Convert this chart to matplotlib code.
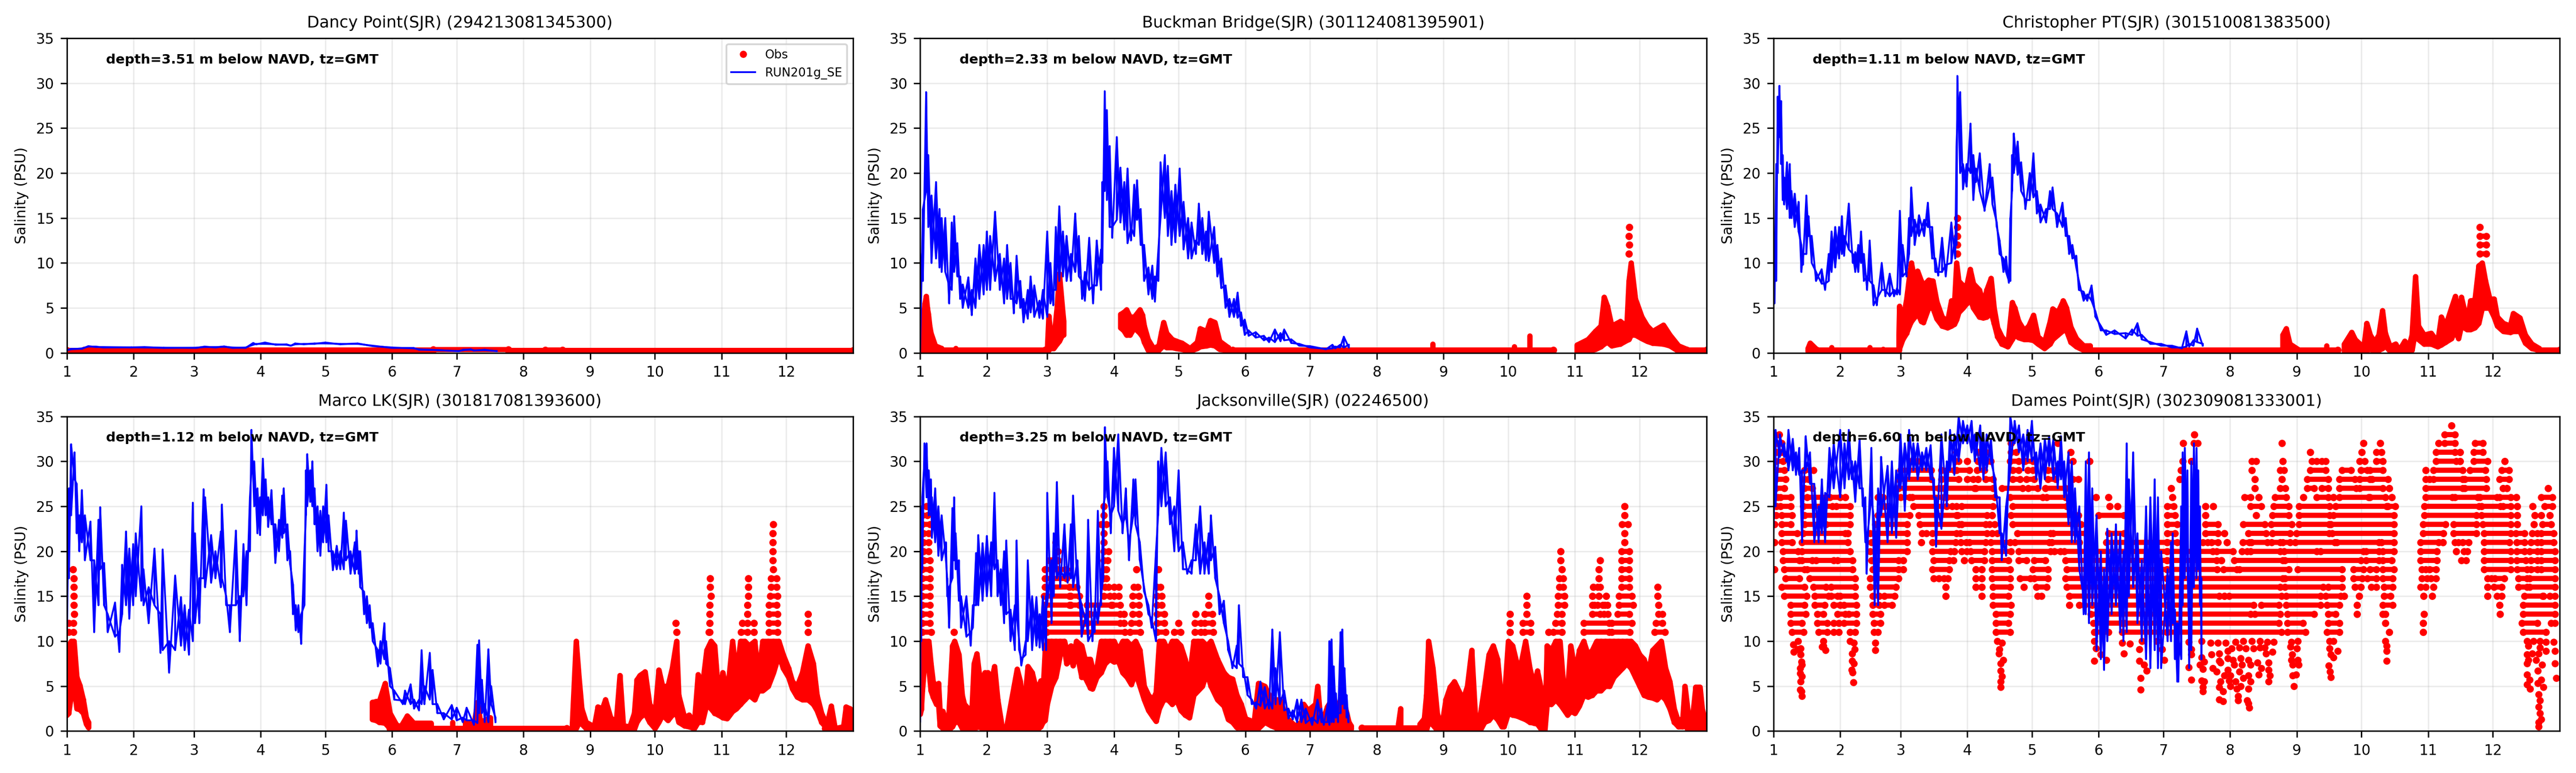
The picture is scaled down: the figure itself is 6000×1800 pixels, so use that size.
import numpy as np
import matplotlib
matplotlib.use("Agg")
import matplotlib.pyplot as plt

month_starts = [0, 31, 59, 90, 120, 151, 181, 212, 243, 273, 304, 334]
month_labels = ["1", "2", "3", "4", "5", "6", "7", "8", "9", "10", "11", "12"]
yticks = [0, 5, 10, 15, 20, 25, 30, 35]

titles = ["Dancy Point(SJR) (294213081345300)", "Buckman Bridge(SJR) (301124081395901)",
          "Christopher PT(SJR) (301510081383500)", "Marco LK(SJR) (301817081393600)",
          "Jacksonville(SJR) (02246500)", "Dames Point(SJR) (302309081333001)"]
depths = [3.51, 2.33, 1.11, 1.12, 3.25, 6.60]

# model salinity: (day, high, low) of the tidal band
dancy_blue = [(0, .3, .3), (2, .45, .4), (7, .5, .45), (10, .75, .7), (13.5, .7, .65), (17, .65, .6), (30, .62, .6),
              (36, .65, .6), (45, .58, .55), (60, .58, .55), (64, .7, .65), (69, .65, .6), (73, .72, .68), (77, .6, .55),
              (83, .6, .55), (86.5, 1.1, .9), (88, 1, .95), (92, 1.15, 1), (97, .95, .9), (102, .95, .9), (104, .8, .8),
              (106, 1.05, .95), (110, 1, .95), (115, 1.05, 1), (120, 1.15, 1.05), (127, 1, .95), (135, 1.05, 1),
              (142, .8, .75), (151, .6, .55), (161, .55, .5), (163.5, .4, .35), (172, .32, .3), (182, .2, .18),
              (184, .35, .3), (187.5, .4, .35), (189, .28, .25), (194, .35, .3), (199.6, .2, .18)]

buckman_blue = [(0, 11, 0), (1.3, 16, 8), (2.8, 29, 18), (3.8, 22, 14), (5.3, 17.5, 10), (7.4, 19, 10.5), (9, 16, 9.5),
                (10, 15, 9), (11.7, 15, 9), (13.5, 7.5, 5.5), (14.7, 14.5, 7), (15.8, 15.2, 9), (17.3, 12.2, 8.5),
                (18.6, 8.5, 6), (19.8, 7.6, 5), (22.4, 8.4, 5), (24, 7, 4.2), (25.7, 10.5, 5), (27.5, 12, 6), (29.5, 12, 6.5),
                (31, 13.5, 7), (32.5, 13, 7), (34.8, 15.7, 8), (37, 11, 7), (39, 10.5, 5.5), (40.4, 12, 6), (42, 10, 6),
                (43.5, 6, 4.4), (44.8, 10.8, 5.5), (46.5, 8, 5), (48, 6, 3.4), (50, 7, 3.8), (51.3, 8.5, 4.5), (53, 7.5, 4),
                (55.4, 5.8, 3.9), (57, 7, 3.8), (59, 13.5, 4), (60.5, 10, 5.5), (61.8, 7, 5.3), (63, 14, 7), (64.6, 16.3, 8),
                (66.3, 13.5, 8.5), (68, 13, 8), (70, 11, 8), (72, 15.5, 9), (73.7, 13, 8.5), (75.2, 8, 6), (76.5, 9, 5.8),
                (78.5, 12.8, 7), (80.3, 7.5, 5.5), (82, 12.5, 7.5), (84, 11.5, 7), (84.6, 19, 10), (85.7, 29.1, 18),
                (86.7, 27, 17), (88, 23, 14), (89.2, 14, 12.8), (91.3, 24, 14.8), (93, 20.6, 14.5), (94.8, 19, 13.7),
                (96.3, 20.5, 12.2), (97.9, 14, 12.5), (99.4, 18.7, 13), (100.7, 19.2, 14.8), (102.4, 16, 12), (104, 12, 8),
                (106, 9.5, 6.5), (107.8, 9.7, 6), (109, 8.5, 5.7), (110.6, 11.5, 8), (111.6, 21.2, 15), (113.6, 22, 15),
                (115, 20.8, 13), (116.7, 18, 12), (118.5, 18.7, 12.3), (120.5, 20.5, 13), (122.3, 16.8, 11.5),
                (124.4, 15, 10.5), (126, 14.5, 10.5), (128, 12.5, 11), (129.4, 16.6, 12), (131, 15, 11), (132.7, 13.5, 10.3),
                (134, 15.7, 10.2), (136.5, 14, 10), (138, 12, 8.5), (139.8, 10.5, 7.2), (141.8, 7.5, 5), (143.6, 6, 4),
                (145.7, 6, 4), (147.4, 6.7, 3.9), (149, 4.5, 3), (150.7, 3.7, 2), (152.5, 2.5, 1.9), (155.8, 2.3, 1.7),
                (159.6, 1.9, 1.4), (162, 1.7, 1.2), (164.7, 2.6, 1.2), (167.3, 2.2, 1.3), (169, 2.6, 1.4), (172.3, 1.5, 1.1),
                (176, 1, .8), (181, .75, .6), (188.4, .45, .4), (191.4, .9, .5), (192.7, .7, .5), (195, .9, .6),
                (196.7, 1.8, .6), (199, .9, .6)]

christopher_blue = [(0, 5.5, 5.3), (.5, 13, 5.5), (1.3, 21, 8), (2, 28.5, 20), (2.8, 29.7, 24), (3.6, 28, 21), (4.3, 22, 17),
                    (5, 19.5, 16.5), (6.3, 21.2, 16), (7.6, 21, 15), (8.4, 18, 15), (9.9, 17.7, 14), (11.7, 16.8, 13.5),
                    (13, 12, 9), (13.7, 11, 9.8), (15.3, 17.5, 11), (16.3, 15.2, 13), (17.8, 13, 10), (19.8, 9, 8),
                    (22.4, 9.3, 7.7), (24, 7.7, 7), (25.7, 11, 8), (27, 13.5, 9), (28.7, 14, 9.5), (30.5, 14, 10.5),
                    (31.8, 15.2, 11), (32.8, 13, 10.8), (35, 16.6, 11.5), (36.9, 11, 10), (38, 11.2, 9), (39.4, 12, 9),
                    (40.7, 13.5, 10), (42, 11, 8), (43.5, 8.5, 7), (44.7, 12.5, 8), (46.5, 7.5, 5.3), (48, 6, 5.3),
                    (50.3, 10, 7), (52, 7, 6.3), (54, 8.8, 6.3), (56, 7, 6.3), (57.4, 7.2, 6.5), (58.7, 15.8, 6.5), (60, 12, 8.5),
                    (61.8, 9, 8.5), (63, 15, 11), (64, 18.4, 13), (65.6, 14.8, 12), (67.6, 15.3, 13), (70, 14.8, 13),
                    (71.7, 16.7, 14), (73.7, 14, 10.5), (75.2, 10.5, 9), (76.5, 9, 8.6), (78.3, 12.8, 9), (80, 9.8, 8.5),
                    (82.6, 14.5, 10), (84.4, 13, 10.5), (85, 23, 12), (85.4, 30.8, 26), (86.7, 29, 20), (88, 21, 18.2),
                    (89.7, 21, 18.5), (91.5, 25.5, 20), (92.8, 22, 17), (94, 20.5, 19), (95.8, 22.2, 18), (98, 16, 15.8),
                    (100.4, 21, 18.5), (101.7, 19.5, 16.5), (103.7, 14.5, 14), (105, 12.5, 11), (106.8, 10.5, 9), (108, 10.7, 9),
                    (109.3, 8, 7.8), (110, 15, 8), (110.8, 22, 18), (111.6, 24.4, 20), (113.4, 23.5, 19.8), (115, 21.2, 18),
                    (117, 17, 16), (119, 20, 17), (120.7, 22.2, 17.3), (122.3, 18, 15.5), (124, 16.5, 14.5), (126.6, 16, 14.5),
                    (128.4, 18, 16), (129.6, 18.4, 16), (131.7, 15.5, 14), (134.2, 16.7, 14), (135.7, 15, 13), (137.3, 13, 11),
                    (138.8, 12, 10.5), (140.6, 10.8, 9.5), (141.8, 8, 7), (144, 6.8, 5.8), (145.7, 6.5, 5.8), (147.7, 7.5, 5.8),
                    (149.5, 4.6, 4), (152, 3, 2.5), (154.5, 2.5, 2), (158.4, 2.5, 2.1), (163.5, 2.2, 1.6), (166.5, 2.6, 2),
                    (169, 3.3, 1.9), (171, 2, 1.5), (175, 1.2, 1), (180, 1, .8), (185, .8, .6), (189.6, .6, .5), (191.7, 2.4, .7),
                    (193, 1, .7), (195, 1.4, .8), (196.7, 2.7, 1.2), (199.3, 1, .8)]

marco_blue = [(0, 22, 9.5), (1, 27, 17), (2, 31.9, 24), (3.6, 31, 28), (4.6, 27.5, 22), (5.8, 24, 20), (7, 26.8, 21), (8.4, 24, 19),
              (11, 23.3, 19), (12.7, 19, 11), (14.7, 23.5, 14), (15.5, 24.9, 18), (17.3, 18.7, 14), (19, 13, 11), (22.4, 14.3, 10.5),
              (24.4, 11, 8.8), (25.7, 18.5, 13), (27.5, 22.2, 14), (29, 20.3, 12.5), (30.8, 20.8, 14), (32, 22, 15), (34.6, 25, 14.5),
              (35.6, 18, 14), (38, 16, 12), (40.7, 20.3, 14), (43.5, 13, 8.7), (44.5, 20.2, 9), (47.5, 10, 6.5), (50.3, 17.3, 9),
              (53, 14.9, 9.5), (54.7, 14, 9), (56.7, 13.5, 8.5), (58.5, 25.4, 10), (59.5, 22, 12), (61.5, 17, 12), (63.5, 26.9, 17),
              (64.2, 26, 16), (67, 21.8, 16.5), (69, 20, 17), (71.5, 22.2, 16), (72, 25.2, 17), (74, 15, 14), (75.7, 14, 11), (78.5, 22.3, 14),
              (80.3, 15, 10), (82, 20.8, 15), (83.4, 20, 14), (85, 26, 20), (85.7, 33.5, 29), (87, 30, 25), (88.5, 27, 22), (89.7, 26, 21.8),
              (91, 30.3, 24), (92.3, 28, 24), (93.5, 26, 22.7), (95, 26.8, 23), (96.8, 23, 18.7), (98.5, 23.5, 20), (100, 26.2, 21.5),
              (100.7, 27, 22), (102.4, 23, 19), (103.7, 20, 18.5), (105, 16.3, 13), (106.3, 14, 11.2), (107.5, 14, 11), (108.8, 13, 9.7),
              (110.3, 20, 14), (111, 29, 24), (111.6, 30.8, 25), (113, 29, 25.5), (114, 30, 25), (115, 27, 23), (116.4, 25, 20),
              (117.7, 24.5, 19.5), (119, 25, 21), (120.5, 27.4, 21), (121.5, 24, 20), (123.5, 20, 17.9), (125.3, 20.6, 18), (127, 20, 18),
              (128.6, 24.3, 18), (129.6, 23.4, 19), (131.7, 20, 17.5), (133.7, 21, 17.5), (134.5, 22.3, 18), (135.5, 20, 17.5), (136.2, 20, 16),
              (138, 15.5, 13), (139.3, 15, 12), (140.6, 14, 11.5), (142, 12, 10), (144.4, 9, 7.2), (145.6, 10, 7.5), (147.4, 12, 8), (148.2, 10, 7.5),
              (150, 7, 5), (152, 4.5, 3.5), (156, 3.4, 3), (157, 4.5, 3), (159.6, 5.2, 3), (161.2, 3.5, 2.5), (163.5, 3.5, 2.3), (164.7, 9, 3),
              (166, 5, 3), (168.5, 8.7, 3.5), (169.8, 6.8, 3), (172, 3, 2), (175, 2, 1.3), (178.7, 2.9, 1.3), (181, 2.6, 1.2), (183.8, 1.5, 1),
              (185.6, 2.6, 1.2), (189, 1.2, .7), (190.6, 9.6, .9), (191.4, 10.1, 2), (192.7, 5.7, 2), (194, 3, 1), (195.7, 9.1, 1), (197, 5, 3),
              (199, 1.5, 1)]

jacksonville_blue = [(0, 10, 1), (.5, 25, 10), (1, 26, 18), (2, 32, 30), (3, 32, 26), (4, 29, 24), (5, 28, 24), (5.5, 26, 21.5), (7, 27, 21),
                     (8.5, 25, 19.5), (10, 24, 19), (12, 21, 19), (12.6, 17, 15), (13.5, 16, 11.5), (15, 24.8, 17), (15.8, 26, 19), (16.5, 22, 18),
                     (18, 19, 14.5), (19, 15, 11.5), (21.5, 15, 10.5), (23.5, 11, 9.5), (24.5, 14, 11.5), (26, 19.8, 14), (27, 21.8, 14),
                     (29, 20.9, 14.5), (31, 21.7, 15), (33, 21, 15), (34.5, 26.5, 18), (36, 19, 15), (37.5, 18, 14), (39, 20, 12), (40, 21.2, 13),
                     (42, 13.5, 10), (44, 14, 9), (44.8, 21.2, 13), (46, 10, 9), (47, 8, 7.3), (49, 10, 8.5), (50, 19, 10), (52, 15, 9),
                     (54, 14.9, 9.5), (55.5, 13, 9.3), (57, 15, 9), (58.5, 15, 9), (59, 26.5, 14), (61, 19, 12), (62, 22, 15), (63.5, 27.7, 17),
                     (65, 18, 16), (67, 23, 17), (68.5, 18, 16.5), (70, 23, 17), (71, 26.2, 16), (73, 19, 16), (75, 14, 10.5), (77, 13, 12),
                     (78, 23.5, 10), (80, 11, 10), (81, 14, 11), (82.5, 24.5, 12), (84, 15, 14), (85, 25, 17), (85.8, 33.8, 26), (87, 30, 26),
                     (88.5, 24, 22), (90, 31.5, 25), (92, 33, 24.5), (94, 23, 22), (95.5, 27, 24), (97, 21, 19), (99, 28, 24), (100, 28, 23),
                     (102, 21, 19), (104, 16, 15.5), (106, 14, 13), (107.5, 12.5, 11.5), (109.5, 20, 10), (110.5, 30, 24), (112, 31.5, 25),
                     (114, 31, 25), (116, 26, 23), (118, 25, 20), (120, 29, 20), (122, 21, 18), (124, 18, 17.5), (126, 19, 17.5), (128, 23, 19),
                     (130, 25, 17.5), (132, 21, 17.5), (134, 22, 17.5), (135, 24, 19), (137, 20.5, 17), (139, 15, 13), (141, 14.5, 12), (143, 10, 9),
                     (145, 7.5, 7), (147, 9.5, 7), (148, 14, 7.5), (150, 7, 6), (152, 6, 4), (154, 3.5, 3), (156, 3.2, 2.5), (158, 5.5, 2.8),
                     (160, 4.9, 2.5), (162, 3.5, 2.5), (163.5, 11.3, 2.5), (165, 7, 3), (167, 11, 3), (169, 4.5, 2.3), (171, 2.5, 1.4), (173, 2.3, 1.3),
                     (175, 3.5, 1), (177, 3.5, 1), (179, 2.5, .9), (182, 1.5, .7), (184.5, 3.5, .9), (186.3, 2.5, 1), (187.4, 1, .7), (189.2, 3, 1),
                     (190, 10, .7), (191, 10.2, 1), (192, 7.2, 1), (193, 4.2, 1.5), (194, 2, 1), (195.2, 11, 2), (196, 11.3, 3), (197, 7, 2.5),
                     (198, 4, 1.5), (198.8, 2, 1)]

dames_blue = [(0, 25, 21), (1, 33.5, 25), (3, 33, 30.5), (5, 32, 30.5), (6, 31, 30), (7, 33.5, 29), (9, 32.5, 29), (10.5, 31, 28.5), (12, 31.5, 28.5),
              (13.3, 29, 21), (15, 32.8, 29), (17, 31, 27.5), (19, 27.5, 21), (21, 25, 21), (22.5, 28, 22), (24, 26.5, 21), (26, 31.5, 26), (28, 32, 27),
              (31, 33.5, 26), (33, 32, 27), (35, 33.5, 28), (36.5, 30, 28), (38, 30, 25.5), (40, 32.5, 27), (41.5, 27, 25), (42.7, 26, 21), (43.3, 21, 17.5),
              (45.5, 31.5, 26), (47, 23, 14), (48.6, 27, 14), (50, 30.5, 24), (53, 29.5, 21), (55, 30, 22), (57, 29, 21.5), (59, 33, 27), (61, 32, 24.5),
              (63, 33.5, 28), (65, 32, 29), (67, 32, 28), (69, 31, 29), (71, 31.5, 29), (73, 31.8, 28), (74.5, 28, 26), (75.5, 26, 20.5), (78, 33, 22.5),
              (80.5, 30, 25), (82, 33.5, 29), (84, 33, 28.5), (86, 35, 30), (88, 34.5, 32), (90, 34, 32), (92, 34.5, 31), (93.5, 33, 30), (96, 34, 29),
              (97.5, 33, 28), (99, 33, 29), (101, 32.5, 30), (103, 28, 26), (105, 26, 22), (106, 22, 19), (108, 25, 19.5), (110, 35, 29), (112, 34.5, 32),
              (114, 34, 31), (116, 33, 29), (118, 33.5, 30), (120, 34.5, 30), (122, 31, 28), (124, 32, 27), (126, 32.5, 28), (128, 32.8, 29.5), (130, 32.5, 28),
              (132, 30, 27), (133.5, 32.8, 28), (135, 30, 26), (137, 31, 23), (138.5, 30, 21), (140, 27, 21), (142, 25, 18), (144, 15, 13), (145, 30, 13),
              (146.5, 31, 12), (148, 27, 14), (150, 24, 9), (152, 20, 8), (153.5, 18, 6.8), (155, 22.5, 10), (157, 22, 13), (159, 23, 14), (161, 22, 11),
              (162.5, 20, 10), (164, 32, 11), (165, 28, 15), (167, 31, 16), (169, 22, 12), (171, 19, 10), (173, 25, 8), (175, 26, 7), (177, 28, 9), (178.5, 26, 7),
              (180, 20, 7), (183, 18, 10), (184.6, 21, 10), (185.4, 22, 12), (186.4, 13.5, 8), (187.5, 12, 5.5), (188, 10.5, 5.5), (189.3, 25, 8), (190, 31, 14),
              (191, 31.5, 17), (192.2, 29, 18), (193, 11, 7), (194, 30, 9), (195.2, 32, 16), (196.4, 31.5, 17), (197.2, 29, 18), (198, 25, 14), (198.7, 17, 8)]

# observed band: (day, high, low), and rows of discrete readings {level: [(from, to), ...]}
dancy_obs = [(0, .25, .1)]
dancy_rows = {.25: [(0, 8), (205, 222), (230, 365)], .3: [(8, 170), (222, 230)], .35: [(170, 205)]}

buckman_obs = [(.3, 1.5, 0), (1, 3.7, 0), (1.5, 4, .1), (2.2, 5.5, .3), (2.8, 6.3, .5), (3.3, 5, .3), (3.8, 4.3, .1), (4.4, 3, .2), (5, 2.2, .2), (7, .8, .2), (10, .5, .2),
               (16.5, .5, .2), (59, .4, .1), (59.7, 4.1, .3), (60.5, 2.2, .5), (62, 1.5, .5), (63.5, 5, 1), (64.6, 8.8, 1.3), (66, 5, 2), (66.6, 3.5, 2),
               (93, 4.3, 2.8), (94.5, 4.5, 2.5), (95.8, 4.8, 2), (97.4, 4, 2), (99.4, 4, 2.8), (102, 4.8, 2.2), (103.2, 4.2, 1.8), (104, 3, 1.2), (105.8, 1.5, .3),
               (108.3, .5, .1), (110.8, .8, .3), (112, 2.3, .6), (113, 3.4, .8), (114.4, 2.2, .6), (117, 1.5, .6), (119, 1.3, .5), (121.5, 1.1, .4), (125.3, .5, .2), (128.6, 1.2, .5),
               (130, 2.7, .7), (133, 2.4, .8), (134.7, 3.6, .9), (136.8, 3.4, .8), (139, 1.3, .4), (143, .6, .3), (149.5, .3, .15), (238, 1, .2), (275.8, .7, .2),
               (283, 1.9, .2), (305, .9, .1), (307.5, 1.2, .1), (310, 1.5, .2), (313.4, 2.4, .4), (316, 3, .7), (317.5, 6.2, 1), (319, 5.2, 1.2), (321, 3, .8), (325, 3.5, 1),
               (328, 3, 1.4), (329, 8, 1.5), (330, 10, 2), (332, 6, 2), (335, 4, 1.6), (337.5, 3, 1.3), (340, 2.4, 1.1), (345, 3.1, 1), (348, 2, .8), (352, .8, .2), (356, .4, .1)]
buckman_rows = {.3: [(10, 58), (145, 294), (356, 365)], 11: [329], 12: [329.2], 13: [329.1], 14: [329.2]}

christopher_obs = [(16, .5, .2), (17, 1.1, .3), (20, .4, .2), (27, .6, .2), (44.7, .6, .2), (51, .4, .2), (58.2, 2, .2), (58.5, 5.2, .5), (60, 3.5, 1.5), (61.8, 6, 2.2), (63, 8.3, 3),
                   (64, 10, 3.5), (65.6, 8, 4), (66.9, 9.1, 4.5), (68.6, 8, 3.5), (69.6, 7.5, 3.4), (72, 8.1, 5), (74, 8, 5), (75.8, 5.7, 3.8), (78.3, 4, 3), (80.8, 3.5, 2.8),
                   (82.6, 5.8, 3), (84, 5.5, 3.2), (85, 10, 3.7), (86, 8, 4.5), (88, 7.5, 5), (89.7, 7.5, 5.5), (91.3, 9.3, 6), (92.8, 7.7, 5), (95.6, 7, 4), (97.4, 5.5, 3.9),
                   (99, 7, 4), (101, 8.3, 4.5), (102.4, 5, 3.3), (104, 2.8, 1.8), (106, 1.8, 1), (108.8, 1, .7), (110.8, 5.6, 1.5), (112, 5, 2), (113.8, 3.5, 1.7), (116.4, 2.5, 1.5),
                   (118.5, 3, 1.5), (120.7, 4.2, 1.4), (122.8, 1.8, 1), (125.8, 1.2, .5), (128.4, 3.5, 1), (129.6, 4.9, 1.5), (132, 4.5, 2), (134.5, 5.8, 2.5), (136, 5, 2.5),
                   (138, 2.9, 1.2), (140.6, 1.6, .7), (144, .8, .3), (147, .8, .2), (236.4, 2, .3), (238, 2.7, .3), (239.7, 1, .2), (243.5, .4, .2), (256.7, .8, .2), (265, 1, .2),
                   (268.4, 2.3, .2), (270, 1.5, .2), (274, .6, .1), (275.4, 3.3, .3), (277, 2, .4), (279, 1.2, .2), (281, 2, .3), (282.7, 4.7, .5), (284, 2.2, .8), (286.2, .7, .2),
                   (288.8, 1, .1), (290.5, .3, .1), (293, 1.3, .1), (295, .8, .1), (296.4, 2, .3), (298, 8.5, 2.5), (299.4, 3, 1.5), (302, 2, 1), (305.3, 2.2, 1), (308.3, 1.2, .7),
                   (310, 4, .9), (312, 3, 1.2), (314.7, 5, 1.6), (316.5, 6.3, 2.5), (318, 3.7, 1.6), (319.3, 6.2, 3), (322, 3.5, 2.6), (323.6, 5.8, 2.6), (325.6, 5.9, 2.8), (327.4, 9.7, 3.3),
                   (329, 10, 5), (330.5, 8, 5), (332.5, 6, 5), (334.5, 6, 4), (336, 4, 3), (338.8, 3.3, 2.4), (342, 3, 2.3), (343.4, 4.4, 2.4), (346.5, 3.9, 2.4), (349, 2, 1.1), (352, 1, .5),
                   (355.5, .5, .3)]
christopher_rows = {.3: [(20, 58), (147, 236), (239, 262), (355, 365)], 11: [85.3, (328, 331)], 12: [85.3, (328, 331)], 13: [85.3, (328, 331)], 14: [85.3, 328], 15: [85.3]}

marco_obs = [(0, 4, 1.8), (.8, 9.5, 2), (2, 10, 4), (3.3, 10, 5), (4.6, 6, 2.5), (6, 5.1, 2.4), (7.6, 3.5, 2), (9, 1.5, .8), (10, 1, .4), (141.8, 3.2, 1.3), (143.5, 3.3, 1.2), (145, 3.3, 1),
             (147.7, 5.3, .9), (150, 2, .3), (153, .7, .2), (155, .5, .2), (158, 1.7, .2), (161, .9, .2), (164.7, .9, .2), (169, .9, .2), (179, 1, .2), (185, 1, .2), (189, .7, .2),
             (190.6, 3.2, .2), (192, 1, .2), (196.5, 1.5, .2), (234.6, .8, .2), (236.4, 10, .3), (237.7, 6, .9), (239, 2.5, .8), (241, 1, .3), (244.8, .5, .1), (246.5, 2.7, .1), (248.6, 2.5, .2),
             (250, 3.5, .3), (252.4, 1.5, .2), (255, 1, .1), (256.7, 6.2, .3), (258.3, .6, .1), (261.3, .5, .1), (263.4, 2, .2), (264.6, 5.7, 1), (266, 6.2, 1.5), (268.4, 6.6, 2), (270.5, 3, 1),
             (273, 2, .3), (274.8, 6.8, 1), (276.5, 5, 1.8), (279, 5, 1.2), (281, 7, 1.8), (283, 10, 2), (284, 4, 1), (286.7, 1.5, .6), (288.8, 1.8, .5), (291.3, 1, .3), (293, 6.3, 1), (295, 5, 1),
             (297, 9, 3), (299, 10, 2.5), (300.7, 9.5, 2), (302.5, 4, 1.8), (304.5, 6.5, 1.5), (306.5, 4, 1.4), (309, 10, 2.2), (310.8, 6, 2.5), (312.7, 10, 3), (314.7, 10, 3.5), (316.7, 9.5, 4),
             (319.3, 10, 3.5), (321, 6, 4.5), (323, 10, 4.5), (325.6, 10, 5), (328, 10, 6.5), (330.5, 10, 8.5), (332.5, 8.5, 7), (335, 7, 6), (336.8, 5.5, 4.7), (339, 5, 3.8), (341.4, 6.5, 3.5),
             (344, 9.5, 3.5), (346.5, 7.5, 3), (348.2, 4, 2.3), (350.3, 2, 1), (352.8, .7, .3), (354.8, 2.8, .3), (356.6, .3, .1), (360.5, .5, .1), (361.7, 2.7, .1), (363.5, 2.5, .2), (365, .4, .1)]
marco_rows = {.3: [(150, 232), (352, 365)], 11: [(.8, 3), 283, (298, 298.5), (313, 316), 319, (326, 330), 344], 12: [(.8, 3), 282.7, 298.4, 313.5, 316, 319, (326, 330), 344],
              13: [3.5, 298.4, 316, (326, 330), 344], 14: [3.2, 298.4, 316, (326, 329.5)], 15: [3.2, 299, 316.3, (326.5, 330)], 16: [3.2, 298.7, 316.3, (327, 329.5)],
              17: [3.2, 298.7, 316.3, (327, 329.5)], 18: [2.9, 328], 19: [327.7], 20: [327.7], 21: [327.7], 22: [327.7], 23: [328]}

jacksonville_obs = [(0, 10, 1.9), (.5, 7, 2.4), (1, 10, 4.5), (2, 10, 7.5), (4, 10, 7), (5, 7.5, 4.5), (6, 5.5, 3.8), (7.5, 5, 3), (8.5, 5.3, 3), (9.2, 2.2, .6), (10.5, 2.2, .3), (11.5, 1.5, .1),
                    (13, .5, .1), (14, 5, .3), (15, 9.5, .5), (16, 10, 1), (18, 8.5, 1), (19.5, 4, .3), (20.5, 3, .3), (22, 2.6, .1), (24, 2.4, .1), (25, 7.5, .1), (26.3, 8.6, .5), (28, 5.2, .4),
                    (30, 6.5, .2), (31.5, 6.5, .3), (33, 5.5, .3), (34.5, 7.2, .3), (36, 3.5, .1), (38, .5, .1), (40, .3, .1), (45, 6.9, .2), (46.5, 5.5, .1), (47.5, 2.8, .1), (49, 4.5, .1), (50, 7.2, .1),
                    (52, 6.5, .1), (54, 4.5, .1), (56, 5.6, .5), (57, 4.3, 1), (58, 9, 1.2), (59, 10, 3), (61, 10, 5), (63, 10, 6), (65, 10, 8.5), (67, 10, 9), (68, 9, 7.5), (70, 9.5, 8), (71, 8, 7.3),
                    (72.5, 10, 9), (75, 9.5, 6), (76.5, 8, 6), (79, 8, 4.8), (80, 7, 4.7), (82, 7, 6), (84, 10, 6.5), (85.8, 10, 7.5), (88, 10, 8), (90, 10, 7.7), (92, 9, 7.8), (94, 10, 6.5), (96, 10, 6),
                    (98, 9.5, 5.2), (100, 10, 6.5), (102, 9, 5), (104, 5, 3.5), (106, 4, 2.3), (108, 3.5, 1.6), (109.5, 4.3, 1.1), (111, 10, 2.5), (113, 10, 3.5), (115, 9, 3.5), (117, 10, 3), (119, 10, 3.5),
                    (121, 9.5, 2.3), (123, 8, 1.8), (125, 6, 1.5), (127, 10, 4), (129, 10, 4.5), (131, 10, 5), (133, 9.5, 6.5), (135, 10, 5), (138, 8, 3.5), (141, 6.5, 2.8), (143, 6, 1.3), (145, 5.8, 1),
                    (147, 4, .4), (149, 3, .4), (151, 1.4, .1), (153, 1.2, .1), (155, 1, .1), (157, 5.3, .3), (160, 5, 1), (163, 3.5, .6), (165, 3.5, .4), (167, 3.5, .1), (170, 1.5, .1), (174, .6, .2),
                    (177, 1, .1), (178, 3, .2), (180, 2.3, .2), (183.5, 3, .2), (184.5, 5, .2), (186, .8, .2), (188, 2, .2), (189, 2.7, .2), (191, 3.5, .2), (193, 1.5, .2), (195, 3.5, .2), (197, 3, .2),
                    (199, 1, .2), (200, .6, .2), (222, .8, .2), (223, 2.5, .2), (232, .8, .2), (234, 1.4, .1), (235, 4, .1), (236, 10, 1), (238, 7, .7), (240, 2, .1), (242, .3, .1), (244, 3.5, .2), (246, 4.9, .3),
                    (248, 5.5, .3), (250, 4.5, .2), (252, 3.5, .2), (254, 5, .1), (256, 9, .2), (258, .4, .1), (260, 1.8, .1), (262, 5, 1), (264, 8.5, 1.2), (266, 9.5, 1.8), (268, 8, 1.3), (270, 3, .5), (271, 3, .5),
                    (273, 10, 2), (275, 9.5, 1.8), (277, 7.5, 1.7), (279, 7.6, 1.5), (281, 10, 1.3), (283, 7, 1), (285, 5, .9), (286.5, 6.7, .8), (288, 5, .3), (290, .6, .2), (291, 9.5, 3), (293, 9, 3), (295, 10, 3.5),
                    (297, 10, 3), (298.5, 5.5, 2.5), (300.5, 4.5, 1.8), (302, 9.5, 2.2), (304, 6.5, 2), (306, 9, 2.8), (308, 10, 4), (310, 8.5, 3.8), (312, 9, 4), (314, 10, 4.5), (316, 10, 4.5), (318, 10, 5), (320, 10, 5),
                    (322, 10, 6), (324, 10, 6.5), (326, 10, 7), (328, 10, 7.5), (330, 10, 7), (332, 9.5, 6), (334, 8.5, 5), (336, 8, 4), (338, 6.5, 3.8), (340, 9, 3.7), (342, 9.5, 3.5), (344, 10, 4), (346, 7, 3.5),
                    (348, 5.5, 2.5), (350, 2.5, 1), (352, 1, .5), (354, 1.5, .5), (355, 5, .7), (356.5, 2, .1), (358, .3, .1), (360, 4.9, .3), (362, 4.9, .3), (363, 2.5, .1), (365, .6, .1)]
jacksonville_rows = {.35: [(205, 232)],
                     11: [(1, 5.2), 15.8, (58.7, 95), (97.5, 102.2), (110, 114), (118, 121), (127.5, 130.4), (132.2, 136.2), 273.9, (279.8, 283.3), 291.8, (293.9, 298), (308, 319.8), (321, 329.5), (341, 345.7)],
                     12: [(1, 4.6), (58.7, 76.2), (77.5, 92.8), 94.6, (98, 101.6), (110, 113.4), 120, (127.5, 130.4), (132.2, 135.8), 273.9, (279.8, 283.3), (295, 298), (308, 319.8), (321, 330.4), (341.5, 344.5)],
                     13: [(1, 4.6), (59.3, 75), (78.7, 92.8), 94.6, (98.7, 101.6), (110, 113.4), 128, (132.2, 135.8), 273.9, 281.5, (295.8, 298), (312, 315.6), (317.4, 319.2), (323.9, 329.2), (342.7, 344.5)],
                     14: [(1, 4.6), (58, 69.3), (70, 74), (77.5, 88.7), (89.3, 92.8), (98.7, 101.6), (110, 112.2), 134, 281.5, (296.2, 299.2), (312, 313), (314.5, 316.8), (317.8, 319), (324.5, 331), 342.7],
                     15: [(1, 4.6), (57.5, 69.3), (70, 74), (85.2, 88), (90, 92.2), (98.7, 101.6), (110, 112.2), 134, 281.5, (296.2, 299.2), 312, 315, 318.4, (324.5, 330.4), 342.4],
                     16: [(1, 4.6), (58, 69.3), (71, 72.8), (85.8, 87.5), (90, 92.2), (99.3, 101), (110, 111.6), (296.8, 298.6), 312.5, (314.5, 315.6), (325.6, 329.2), 342.4],
                     17: [(1, 4.6), (58, 68), (85.2, 86.4), (296.8, 298.6), 315, (325.6, 329.2)],
                     18: [(1, 4.6), (58, 61.6), (64, 68), (85.2, 86.4), 100.5, 110.5, 298, 315, (325.6, 329)],
                     19: [(1.6, 4.6), (60, 61.6), 64, (85.2, 87), 297.4, 315.6, (325.6, 329.2)],
                     20: [(1.6, 4), 64, (85.2, 87.5), 297.4, (325.6, 329.2)], 21: [(1.6, 4), 63, 85.2, 327], 22: [(1.6, 4), 85.2, 327],
                     23: [(1, 4.6), (84, 86.4), (325.9, 328.6)], 24: [(1, 3.4), 85.2, 327], 25: [2.9, 85.2, 327]}

dames_rows = {34: [314.8],
              33: [2.7, 195.4, (311.6, 316.4)],
              32: [(1.5, 3.9), 110.3, 132, 190.2, (195.2, 197), 236, 274, 281.6, 308.7, (311.6, 316.4), (325.8, 329.3)],
              31: [(1.5, 3.9), 85, 95, 98.6, (110.3, 112.7), 138, 249.3, 273.2, (279.9, 282.2), (307.5, 316.4), 318.7, (325.2, 329.3)],
              30: [(1, 4.5), (64, 66.8), (84.5, 86), 90, 95, (99.2, 101), (109.8, 113.9), (116.8, 120.4), 139, 146.8, 190, 194, (222.2, 224), 236.4, (250, 252.2), (254.6, 256.4), (272.2, 274.6), (279.9, 282.8), (307.5, 317), 318.7, (325.2, 331.6), 339.5],
              29: [(1, 5), (14.5, 18.6), (59, 73.3), (78, 84), (85, 91), (94.5, 98), (111, 113.9), (118, 120.4), (127.4, 129.8), 189.3, 222.2, (235.2, 237), (249.3, 256.4), (264, 268.1), (272.8, 275.8), (277, 282.8), 302.8, (306.4, 320), (323.4, 330.5), (338, 341.5)],
              28: [(1, 5.6), (14.5, 16.2), (58, 73.3), (78, 86), (90, 92.7), 95, (98.6, 102), (111, 114.5), (117.4, 121), (127.4, 131), (139, 141.5), 188.7, 223.4, 236, (247.8, 257.5), (262.8, 269.9), (272.2, 277), (278, 285.2), (302.8, 304.6), (306.4, 320), (321, 331), (337, 341.5)],
              27: [(1, 5), (14.5, 18), (58, 76.8), (79.2, 93.3), (93.9, 102), (106.2, 115.7), (118.2, 122.7), (126.2, 135.6), 184.6, 223.4, (235.2, 237.6), (247.8, 251), (254.6, 257.5), (262.8, 270.5), (272.2, 282.8), 285.8, (302.8, 320), (321, 331), 338.7, 340.5, 359.6],
              26: [(.4, 2.1), (3.3, 8), (15.6, 25), (26.2, 30.9), 33.3, (48.6, 51), (59, 63.3), (64.5, 79.2), (80.4, 102.7), (109.8, 125), (126.8, 135.6), 149.8, 155.6, 185.2, (218.7, 221.6), 225.2, (232.8, 238.1), 246, (252.2, 257.5), 259.9, (262.8, 276.4), (277, 284), 287, (302.8, 315.2), (316.4, 327), (328, 335.8), (337, 342.2), 344.8, (356.4, 361.6)],
              25: [(.2, 1.5), (3.3, 8), (13.9, 27.4), (29.2, 35.6), (51.5, 53.3), (65, 80.4), (83, 85), (87.4, 102), (111, 136.2), 156.2, 159.8, (182.8, 185.8), 200.5, 204.2, (221.6, 226.4), (232.2, 239.3), (244, 258.1), (261, 284.6), (285.2, 288.7), (302.2, 327.5), (328.7, 337.5), (338.7, 342.2), 345.2, 352.5, (358.1, 361.6)],
              24: [(.2, 1.2), (3.9, 8.6), (14.5, 35.6), (48.6, 63.3), (67.4, 85), (85.6, 99.2), 101.5, (110.3, 141.5), (151, 162.7), (182.8, 186.4), 200.5, 224, (231.6, 239.3), (244, 258.1), (259.9, 288.1), (302.2, 326.4), (328.7, 342.2), 345.2, 353.5, 356.4, 360.5],
              23: [.4, (3.9, 8), (14.5, 21.5), (24.5, 35.6), (47.4, 62), (68, 87.4), (86.2, 98.6), (100.4, 102.7), (111, 142.7), (182.8, 187.5), (200.5, 206.4), (218.1, 228), (231, 240.6), (244, 258), (258.7, 288), (301.6, 312), (315.8, 326.4), (329.3, 342.2), 345.2, 353, (357, 361)],
              22: [(3.9, 11), (13.9, 33.3), 34.5, (45, 62), (69, 71), (73.9, 85), (86.8, 99.2), (101.5, 103.9), (113.3, 128.6), (129.8, 145), (155.6, 162.7), (182.8, 186.4), (200.5, 206.4), 209.3, (220.5, 228.7), (231.6, 239.9), (242.8, 258), (259.3, 288), (301.6, 311), (315.8, 326.4), (329.9, 342.2), (344.6, 348.7), (352.3, 354.6), (356.4, 362.2)],
              21: [.4, (3.9, 8.6), (13.3, 34.5), (45.6, 62), 68.6, (73.9, 84.5), (87, 89.5), (91, 98.6), (101, 109.8), (112, 128), (129.2, 142), 146, (154.5, 182.6), (182.8, 187.5), (199.3, 201.6), (203.4, 206.4), 210.5, (218, 221), (222, 229.3), (231.3, 235.2), (236.4, 239.9), (242.2, 260.5), (261.6, 281), (282.2, 288), (300.5, 308.7), 310.8, (316.4, 318), (320, 322.8), (329.9, 341.6), (345, 348.7), (351.6, 354.6), (356.4, 362.2)],
              20: [(4.5, 11.5), (13.3, 35.6), (45, 62), (73.9, 82.1), 83.9, (87.4, 89.8), (91.5, 98), (101.5, 110.3), (113.9, 128.6), (130.4, 133.3), (135, 182.6), (182.8, 204), (205.8, 213.4), (217.5, 219.9), (221.6, 235.2), (237, 252.2), (254, 274), (275.2, 281), (282.8, 288), (300.5, 308), 317, (320.5, 322.2), (329.9, 342.2), (345, 348.7), (351, 354.6), (356.4, 362.8)],
              19: [(4.5, 12), (13.3, 18), (19.8, 28), (29.8, 36.8), (45.6, 58), 60.3, (74.5, 81.5), 83.5, 88.6, (92, 98), (101.5, 109.2), (113.9, 117.4), (121, 126.2), (135.6, 182.6), (182.8, 205.8), 208, (214, 236.4), (237.5, 272.8), (275.2, 281), (282.8, 287), (300.5, 308), (319.3, 321.6), (329.9, 342.2), (345, 349.2), (351.6, 354.6), (356.4, 362.8)],
              18: [.4, (5, 14.5), (15.6, 36.8), (46.2, 58), 60.3, (73.9, 81.5), 93.9, 96.8, (101.5, 109.8), (120.4, 127.4), (136.2, 182.6), (182.8, 206), (209, 215.2), (216.4, 239.3), (243.4, 264), (269.3, 274), (277, 279.9), (282.8, 288), (301.1, 302.8), (304.6, 307.5), (329.9, 342.2), (345.2, 349.9), (351.6, 354.6), (356.4, 362.8)],
              17: [(5.6, 12), (16.8, 38), (45, 58), (74.5, 76.8), (79.2, 81), 93.9, 96.8, (101.5, 109.8), (114.5, 119.2), (121, 127.4), (135.6, 182.6), (182.8, 236.4), (237.5, 264), (269.3, 273.4), (275.8, 279.9), (282.8, 287.5), (301.1, 303.4), (305.2, 307.5), (331.6, 333.4), (335, 339.3), (345.8, 349.9), (351, 362.8)],
              16: [(3.9, 14.5), (18.6, 24.5), (26.8, 38), (45, 56.8), 80, 93.9, 96.8, (102, 109.8), 116.2, (122, 126.8), (136.2, 182.6), (182.8, 235.2), (237.5, 255.2), (257.5, 264), (269.9, 272.8), (277.5, 279.9), (283.4, 287.5), (300.5, 302.8), 306.4, 331.6, (334.6, 338), (345.8, 349.9), (351, 362.8)],
              15: [(5, 15.4), (19.2, 25.6), (26.8, 29.8), (31, 38), (46.2, 49.2), (51.5, 56.2), 80, 96.8, (102, 109.2), (122.7, 124.5), (137.4, 182.6), (182.8, 207), 209.3, (211.6, 235.8), (238, 254), (256.4, 263.4), 265, 271.9, (283.4, 286.4), 301.9, 305.8, 331.5, (335.8, 338), (348.7, 357), 357.4, (360.5, 362.8)],
              14: [(8, 14.5), (19.2, 23.9), (28, 31), (32.7, 38.6), (46.2, 49.2), (51.5, 55), (102, 110.3), 137.4, (142, 144.4), (148, 182.6), (182.8, 222.8), (226.4, 234.6), (238, 254), (257, 262.8), 271, (282.8, 287.5), 337, (348, 362.8)],
              13: [(8, 15), (20.4, 23.3), (29.8, 33.3), (35, 38.6), (46.2, 49.8), (103.3, 109.8), (147.4, 182.6), (182.8, 221.6), (223.4, 235.2), (238.7, 251), (257.5, 261), 271, 282.8, 284, 302, 337.3, (348, 362.8)],
              12: [(8, 13.3), (20.4, 25), (28, 30.4), (32.7, 38.6), (46.8, 49.8), (103.3, 109.2), (148.6, 162), (163, 182.4), (182.8, 234.6), (238.7, 245.8), (257.5, 262.8), 284, 301.6, (347.5, 354.6), (361, 362.8)],
              11: [(8.6, 14), (21, 25), (28, 30.4), (35.6, 38), (46.8, 48.6), (103.3, 109.8), (149, 155.6), (162, 182.6), (182.8, 235.8), (238.7, 247), (257, 262.8), 285.8, 301.6, (348, 358.7)]}

# scattered readings of Dames Point below 10 PSU
dames_low_days = [11.5, 9.2, 9.4, 12.7, 11.2, 12.7, 13, 13.3, 12.4, 12.5, 13.3, 12.7, 12.4, 13.3, 13, 23.3, 23.3, 24.2, 22.7, 35.6, 37.4, 37.8, 36.6, 36.6, 37.4, 36.4, 36.8, 37.2, 47.4, 47.4,
                  103.9, 106.2, 105, 104.8, 106.8, 105.6, 105.6, 106.2, 105.6, 105.6, 149, 149.8, 152, 149, 154.5, 162, 165.6, 162.7, 171, 169.8, 169.8, 172, 173.3, 170.4, 170.4, 178, 180.4, 181.5,
                  192.8, 194, 194, 192.8, 194, 198.7, 198.7, 199.9, 198, 199.3, 198.7, 199.9, 199.3, 199.3,
                  203, 206.4, 209.9, 214.6, 218.1, 222.2, 225.8, 229.3, 232.2, 203.4, 207, 211, 212.8, 216.4, 219.3, 222.8, 225.8, 228.1, 231.6, 207, 211, 213.4, 216.9, 220.5, 224.6, 228.7, 229.9,
                  204, 207.5, 211, 214, 217.5, 221.6, 226.4, 229.9, 205.8, 209.3, 212.2, 216.4, 220.5, 225.2, 230.5, 207.5, 211.6, 214.6, 218.1, 221.6, 229.9, 207, 212.2, 215.2, 216.9, 220.5, 208.7, 207, 208.7, 215.8, 215.8, 219.9, 220.5, 221,
                  240.5, 243.4, 240.1, 243, 240.8, 240.5, 243.4, 243.8, 241, 242.6, 241, 241.6, 258.1, 259.9, 258.1, 261.9, 258.7, 259.9, 257.8, 258.4, 258.7, 284, 284.6, 284.6, 284.6,
                  349.9, 352.8, 355.8, 358.7, 350.5, 355.8, 358.7, 349.9, 352.2, 355.2, 350.5, 354, 349.9, 356.9, 354.8, 349.9, 351, 349.9, 351.3, 356.4, 357.5, 354.8, 355.2, 355.8, 355.2, 355.8, 356.4, 355.2, 355.2, 362.2, 362.8, 362.8, 363.4]
dames_low_vals = [10, 9.6, 8.8, 9.2, 9.1, 8.5, 7.7, 7.4, 7, 6.4, 6.1, 5.5, 4.6, 3.9, 4.4, 10, 9.5, 9, 9.4, 10, 9.8, 9.1, 8.6, 7.8, 7.5, 6.8, 6.5, 5.4, 9.8, 9,
                  10, 9.8, 9.1, 8.6, 7.9, 7.5, 6.7, 6.1, 5.5, 4.9, 10, 9.2, 8.5, 7.8, 7.9, 9.8, 9.7, 8.6, 10, 9.1, 7.8, 7.4, 6.7, 5.9, 4.6, 10, 9.1, 7.9,
                  9.9, 9.1, 8.5, 7.1, 5.7, 10, 8.2, 7.7, 7.4, 6.9, 5.6, 5.5, 4.9, 4.4,
                  9.8, 9.8, 9.8, 9.9, 10, 10, 10, 9.9, 9.9, 8.5, 8.6, 8.9, 9.2, 9.3, 9.2, 9.2, 9.3, 9.3, 8.8, 7.8, 8.1, 7.9, 8.1, 7.9, 7.6, 8.6, 7.6,
                  7, 7.6, 6.8, 7.4, 7.4, 7.4, 7, 6.8, 6.6, 6.2, 6.2, 6.6, 6.2, 6.3, 6.2, 5.5, 5.6, 5.5, 5.9, 5.5, 5.5, 4.9, 5, 4.7, 5, 4.7, 4.4, 3.5, 3.3, 3.9, 3.4, 3.4, 3.1, 2.6,
                  9.9, 10, 9.4, 9.2, 8.5, 7.9, 7.9, 7.4, 7.4, 6.3, 6.2, 5, 10, 10, 9.2, 8.9, 8.5, 8.2, 7.3, 6.6, 6, 10, 9.5, 8.9, 7.8,
                  10, 10, 10, 9.9, 9.5, 9.3, 8.9, 8.5, 8.6, 8.6, 7.9, 7.9, 7.5, 7.4, 6.7, 6.3, 5.7, 5.2, 4.7, 5.7, 4.9, 5.3, 4.1, 3.4, 2.7, 2, 1.3, 1, .5, 9.9, 8.9, 7.5, 5.9]


def draw_panel(ax, obs, rows, blue, title, depth, low_days=(), low_vals=()):
    # solid part of the obs, one column per read position, filled where columns are close
    if obs:
        days, hi, lo = map(np.array, zip(*obs))
        ax.vlines(days, lo, hi, color="r", lw=3, capstyle="round", zorder=2)
        breaks = np.where(np.diff(days) > 5)[0] + 1
        for d, h, l in zip(np.split(days, breaks), np.split(hi, breaks), np.split(lo, breaks)):
            if len(d) > 1:
                ax.fill_between(d, l, h, color="r", lw=3, joinstyle="round", zorder=2)

    xs, ys = list(low_days), list(low_vals)
    starts, ends, levels = [], [], []
    for level, spans in rows.items():
        for s in spans:
            a, b = s if isinstance(s, tuple) else (s, s)
            xs += [a, b]
            ys += [level, level]
            if b > a:
                starts.append(a)
                ends.append(b)
                levels.append(level)
    ax.hlines(levels, starts, ends, color="r", lw=2.9, zorder=2)
    ax.plot(xs, ys, "r.", ms=6, label="Obs", zorder=2)

    # model band as crossed zigzags between the high and low readings
    bd, bh, bl = map(np.array, zip(*blue))
    bx = np.column_stack([bd, bd]).ravel()
    ax.plot(bx, np.column_stack([bh, bl]).ravel(), "b-", lw=1, label="RUN201g_SE", zorder=2.5)
    ax.plot(bx, np.column_stack([bl, bh]).ravel(), "b-", lw=1, zorder=2.5)

    ax.set_xlim(0, 365)
    ax.set_ylim(0, 35)
    ax.set_xticks(month_starts)
    ax.set_xticklabels(month_labels)
    ax.set_yticks(yticks)
    ax.tick_params(labelsize=8)
    ax.grid(True, alpha=0.25)
    ax.set_ylabel("Salinity (PSU)", fontsize=8)
    ax.set_title(title, fontsize=9)
    ax.text(0.05, 0.92, "depth=%.2f m below NAVD, tz=GMT" % depth, transform=ax.transAxes,
            fontsize=7.5, fontweight="bold", zorder=3)


fig, axes = plt.subplots(2, 3, figsize=(20, 6))
plt.subplots_adjust(left=0.02593, right=0.99367, top=0.9506, bottom=0.0542, wspace=0.0852, hspace=0.2019)
axes = axes.ravel()

draw_panel(axes[0], dancy_obs, dancy_rows, dancy_blue, titles[0], depths[0])
draw_panel(axes[1], buckman_obs, buckman_rows, buckman_blue, titles[1], depths[1])
draw_panel(axes[2], christopher_obs, christopher_rows, christopher_blue, titles[2], depths[2])
draw_panel(axes[3], marco_obs, marco_rows, marco_blue, titles[3], depths[3])
draw_panel(axes[4], jacksonville_obs, jacksonville_rows, jacksonville_blue, titles[4], depths[4])
draw_panel(axes[5], [], dames_rows, dames_blue, titles[5], depths[5], dames_low_days, dames_low_vals)
axes[0].legend(loc="upper right", fontsize=6.7)

fig.savefig("out.png", dpi=300)
